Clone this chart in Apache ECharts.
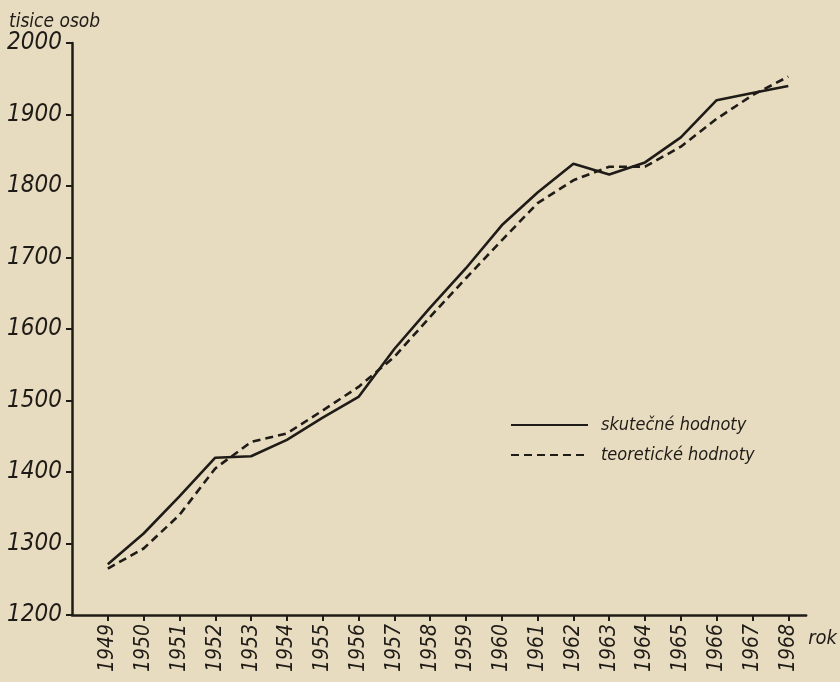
<!DOCTYPE html>
<html><head><meta charset="utf-8">
<script src="https://cdn.jsdelivr.net/npm/echarts@6/dist/echarts.min.js"></script>
<style>html,body{margin:0;padding:0;background:#e8dcc0;}#c{width:840px;height:682px;}</style>
</head><body><div id="c"></div>
<script>
const years = [1949,1950,1951,1952,1953,1954,1955,1956,1957,1958,1959,1960,1961,1962,1963,1964,1965,1966,1967,1968];
const actual = [1271,1314,1366,1420,1422,1445,1476,1505,1572,1630,1685,1745,1791,1831,1816,1833,1868,1920,1930,1940];
const theoretical = [1265,1293,1340,1405,1442,1454,1486,1519,1561,1617,1671,1724,1776,1808,1827,1827,1855,1894,1927,1953];
const yTicks = [1200,1300,1400,1500,1600,1700,1800,1900,2000];
const seriesNames = ['skutečné hodnoty','teoretické hodnoty'];
const yTitle = 'tisice osob';
const xTitle = 'rok';

const ink = '#1f1b17';
const font = '"DejaVu Sans Condensed", "DejaVu Sans", sans-serif';
const chart = echarts.init(document.getElementById('c'));
chart.setOption({
  backgroundColor: '#e8dcc0',
  animation: false,
  title: {text: yTitle, left: 4, top: 8, textStyle: {fontFamily: font, fontStyle: 'italic', fontWeight: 'normal', fontSize: 19, color: ink}},
  grid: {left: 72, right: 30, top: 43, bottom: 67, containLabel: false},
  legend: {
    orient: 'vertical', left: 510, top: 416, padding: 0, itemWidth: 77, itemHeight: 14, itemGap: 12,
    data: seriesNames,
    itemStyle: {opacity: 0},
    textStyle: {fontFamily: font, fontStyle: 'italic', fontSize: 18, color: ink, padding: [0,0,0,8]}
  },
  xAxis: {
    type: 'value', min: 1948, max: 1968.5,
    name: xTitle, nameLocation: 'end', nameGap: 2,
    nameTextStyle: {fontFamily: font, fontStyle: 'italic', fontSize: 20, color: ink, verticalAlign: 'top', padding: [14,0,0,0]},
    splitLine: {show: false},
    axisLine: {lineStyle: {color: ink, width: 2.5}},
    axisTick: {customValues: years, length: 6, lineStyle: {color: ink, width: 2}},
    axisLabel: {customValues: years, rotate: 90, margin: 9, fontFamily: font, fontStyle: 'italic', fontSize: 21, color: ink, formatter: v => String(v)}
  },
  yAxis: {
    type: 'value', min: 1200, max: 2000, interval: 100,
    splitLine: {show: false},
    axisLine: {show: true, lineStyle: {color: ink, width: 2.5}},
    axisTick: {show: true, length: 6, lineStyle: {color: ink, width: 2}},
    axisLabel: {margin: 10, fontFamily: font, fontStyle: 'italic', fontSize: 24, color: ink,
      formatter: v => yTicks.includes(v) ? String(v) : ''}
  },
  series: [
    {name: seriesNames[0], type: 'line', symbol: 'none', data: years.map((y,i)=>[y, actual[i]]),
     lineStyle: {color: ink, width: 2.6}, itemStyle: {color: ink}},
    {name: seriesNames[1], type: 'line', symbol: 'none', data: years.map((y,i)=>[y, theoretical[i]]),
     lineStyle: {color: ink, width: 2.6, type: [8,5]}, itemStyle: {color: ink}}
  ]
});
</script></body></html>
